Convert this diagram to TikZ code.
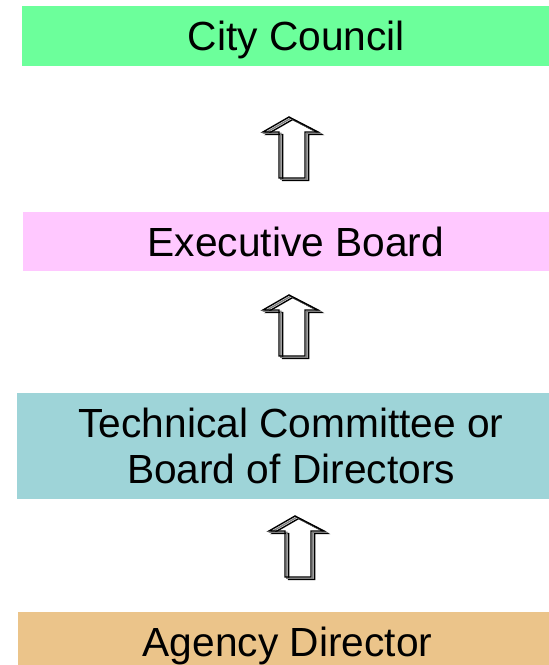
\documentclass[tikz,border=0pt]{standalone}
\usepackage{fontspec}
\setmainfont{Liberation Sans}
\definecolor{councilgreen}{RGB}{108,255,155}
\definecolor{boardpink}{RGB}{255,200,255}
\definecolor{techteal}{RGB}{158,212,216}
\definecolor{agencytan}{RGB}{235,196,138}
\tikzset{
  levelbox/.style={rectangle, draw=none, inner sep=0pt, anchor=center,
    font=\fontsize{40.7}{46}\selectfont, text=black},
  oneline/.style={text height=29pt, text depth=0pt},
  hollowup/.pic={
    \foreach \d/\c in {3.6/black,1.8/gray,0/black}
      \draw[\c, line width=1.4pt, line join=miter, shift={(\d,0.7*\d)}]
        (0,0) -- (-26,15) -- (-10,15) -- (-10,61) -- (16,61) -- (16,15) -- (29,15) -- cycle;
  }
}
\begin{document}
\begin{tikzpicture}[x=1pt,y=-1pt]
  \useasboundingbox (0,0) rectangle (549,665);

  % four levels of the reporting chain
  \node[levelbox, oneline, fill=councilgreen, minimum width=527pt, minimum height=60pt]
    (council) at (285.5,36) {\hspace*{22pt}City Council};
  \node[levelbox, oneline, fill=boardpink, minimum width=526pt, minimum height=59.7pt]
    (exec) at (286,241.5) {\hspace*{20pt}Executive Board};
  \node[levelbox, align=center, fill=techteal, minimum width=532pt, minimum height=105.7pt]
    (tech) at (283,445.8) {\hspace*{16pt}Technical Committee or\\\hspace*{16pt}Board of Directors};
  \node[levelbox, oneline, fill=agencytan, minimum width=531pt, minimum height=60pt]
    (agency) at (283.5,642) {\hspace*{8pt}Agency Director};

  % hollow arrows pointing up the chain
  \pic (up1) at (289,117) {hollowup};
  \pic (up2) at (289,295) {hollowup};
  \pic (up3) at (295,516) {hollowup};
\end{tikzpicture}
\end{document}
